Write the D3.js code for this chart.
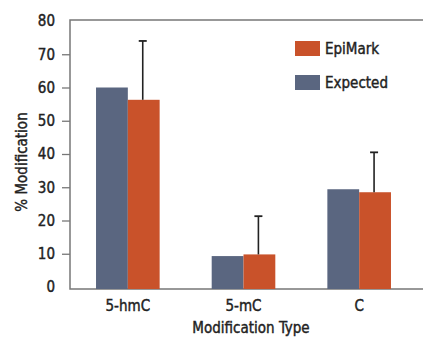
<!DOCTYPE html>
<html><head><meta charset="utf-8">
<script src="https://cdn.jsdelivr.net/npm/d3@7"></script>
<style>
html,body{margin:0;padding:0;background:#fff;}
text{font-family:"DejaVu Sans Condensed","DejaVu Sans",sans-serif;font-stretch:condensed;fill:#222;stroke:#222;stroke-width:0.4px;}
</style></head>
<body><svg id="c" width="423" height="337"></svg>
<script>
const categories = ["5-hmC", "5-mC", "C"];
const seriesNames = ["Expected", "EpiMark"];
const expectedValues = [60, 9.3, 29.4];
const epimarkValues = [56.3, 9.8, 28.5];
const epimarkErrorTop = [74, 21.3, 40.5];
const yTicks = [0, 10, 20, 30, 40, 50, 60, 70, 80];
const colors = {Expected: "#5a6680", EpiMark: "#c9522a"};

(function () {
const svg = d3.select("#c");
const mLeft = 70, mRight = 423, mTop = 20, mBottom = 289;
const fs = 15;
const y = d3.scaleLinear().domain([0, 80]).range([287, 21]);
const x0 = d3.scaleBand().domain(categories).range([70, 417]).paddingInner(0.45).paddingOuter(0.225);
const x1 = d3.scaleBand().domain(seriesNames).range([0, x0.bandwidth()]);

// frame
svg.append("path").attr("d", `M${mRight},${mTop}H${mLeft}V${mBottom}H${mRight}`)
  .attr("fill", "none").attr("stroke", "#777").attr("stroke-width", 1.5);

// y axis ticks & labels
const yAxis = d3.axisLeft(y).tickValues(yTicks).tickSize(8).tickPadding(7).tickFormat(d3.format("d"));
const ga = svg.append("g").attr("transform", `translate(${mLeft},0)`).call(yAxis);
ga.select(".domain").remove();
ga.selectAll(".tick line").attr("stroke", "#777").attr("stroke-width", 1.3)
  .filter(d => d === 0 || d === 80).remove();
ga.selectAll(".tick text").attr("font-size", fs).attr("font-family", null).attr("fill", "#222");

const rows = categories.map((c, i) => ({c, Expected: expectedValues[i], EpiMark: epimarkValues[i], err: epimarkErrorTop[i]}));

const g = svg.append("g");
rows.forEach(r => {
  seriesNames.forEach(s => {
    g.append("rect")
      .attr("x", x0(r.c) + x1(s)).attr("width", x1.bandwidth())
      .attr("y", y(r[s])).attr("height", mBottom - y(r[s]))
      .attr("fill", colors[s]);
  });
  const cx = x0(r.c) + x1("EpiMark") + x1.bandwidth() / 2 - 1;
  g.append("line").attr("x1", cx).attr("x2", cx).attr("y1", y(r.EpiMark)).attr("y2", y(r.err))
    .attr("stroke", "#222").attr("stroke-width", 1.6);
  g.append("line").attr("x1", cx - 4).attr("x2", cx + 4).attr("y1", y(r.err)).attr("y2", y(r.err))
    .attr("stroke", "#222").attr("stroke-width", 1.8);
});

// x labels
svg.append("g").selectAll("text").data(categories).join("text")
  .attr("x", d => x0(d) + x0.bandwidth() / 2).attr("y", 311)
  .attr("text-anchor", "middle").attr("font-size", fs).text(d => d);

svg.append("text").attr("x", 251).attr("y", 333).attr("text-anchor", "middle")
  .attr("font-size", fs).text("Modification Type");
svg.append("text").attr("transform", "translate(27,162) rotate(-90)").attr("text-anchor", "middle")
  .attr("font-size", fs).text("% Modification");

// legend
const legend = [{s: "EpiMark", y: 41}, {s: "Expected", y: 75}];
legend.forEach(l => {
  svg.append("rect").attr("x", 295).attr("y", l.y).attr("width", 25).attr("height", 15).attr("fill", colors[l.s]);
  svg.append("text").attr("x", 325).attr("y", l.y + 13).attr("font-size", fs).text(l.s);
});
})();
</script></body></html>
